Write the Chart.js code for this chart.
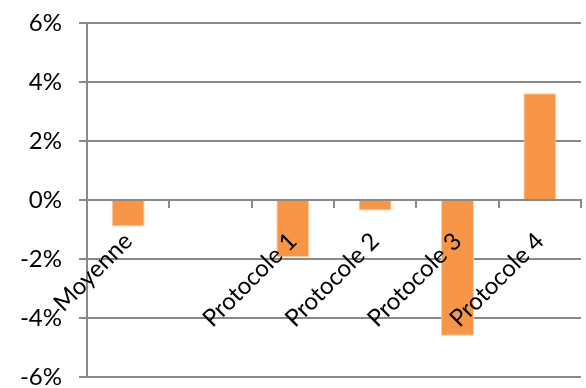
<!DOCTYPE html>
<html>
<head>
<meta charset="utf-8">
<script src="https://cdn.jsdelivr.net/npm/chart.js@4/dist/chart.umd.min.js"></script>
<style>
  html, body { margin: 0; padding: 0; background: #fff; }
  #wrap { width: 586px; height: 388px; position: relative; }
</style>
</head>
<body>
<div id="wrap"><canvas id="c"></canvas></div>
<script>
// Categories along the horizontal axis (one intentionally blank slot)
const categories = ["Moyenne", "", "Protocole 1", "Protocole 2", "Protocole 3", "Protocole 4"];
// Relative difference, in percent
const values = [-0.9, null, -1.94, -0.36, -4.6, 3.62];
// Vertical axis range and step, in percent
const yMin = -6;
const yMax = 6;
const yStep = 2;

const gridGray = "#898989";
const barOrange = "#F79646";
const fontFamily = "Lato, 'Open Sans', sans-serif";

new Chart(document.getElementById("c"), {
  type: "bar",
  data: {
    labels: categories,
    datasets: [{
      data: values,
      backgroundColor: barOrange,
      borderColor: "#FBC9A2",
      borderWidth: 1,
      categoryPercentage: 1,
      barPercentage: 0.4
    }]
  },
  options: {
    responsive: true,
    maintainAspectRatio: false,
    animation: false,
    layout: { padding: { top: 23, right: 5, bottom: 11, left: 0 } },
    plugins: { legend: { display: false }, tooltip: { enabled: false } },
    scales: {
      x: {
        position: { y: 0 },
        offset: true,
        grid: {
          offset: true,
          drawOnChartArea: false,
          drawTicks: true,
          tickLength: 7,
          color: gridGray,
          lineWidth: 2
        },
        // zero line and category labels are painted over the bars
        border: { display: true, color: gridGray, width: 2, z: 1 },
        ticks: {
          z: 1,
          autoSkip: false,
          minRotation: 45,
          maxRotation: 45,
          padding: 20,
          color: "#000",
          font: { family: fontFamily, size: 24 }
        }
      },
      y: {
        min: yMin,
        max: yMax,
        afterFit: (scale) => {
          scale.width = 87;
          scale.paddingTop = 0;
          scale.paddingBottom = 0;
        },
        grid: {
          color: gridGray,
          lineWidth: 2,
          tickLength: 8,
          drawTicks: true
        },
        border: { display: true, color: gridGray, width: 2 },
        ticks: {
          stepSize: yStep,
          padding: 17,
          color: "#000",
          font: { family: fontFamily, size: 24 },
          callback: (v) => v + "%"
        }
      }
    }
  }
});
</script>
</body>
</html>
